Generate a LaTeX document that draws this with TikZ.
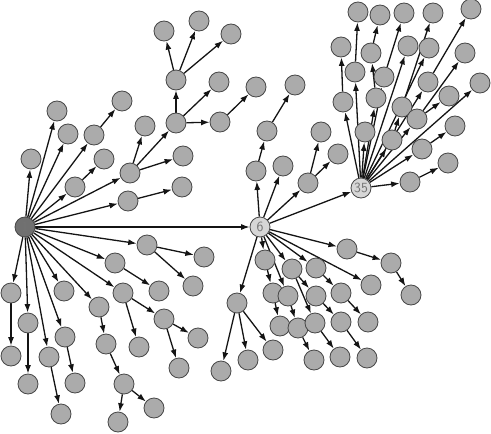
\documentclass[tikz,border=0pt]{standalone}
\usetikzlibrary{arrows.meta,backgrounds}
\newcommand\nlab[1]{{\sffamily\fontsize{14}{14}\selectfont\color{black!55}#1}}
\tikzset{
 nd/.style={circle, draw=black!72, fill=black!33, minimum size=20pt, inner sep=0pt, line width=0.8pt},
 rootnd/.style={nd, fill=black!56},
 hubnd/.style={nd, fill=black!16},
 ar/.style={-{Latex[length=8.5pt,width=6pt]}, line width=1.3pt, black!92},
}
\begin{document}
\begin{tikzpicture}[x=1pt,y=-1pt]
\useasboundingbox (0,0) rectangle (491,434);
% hubs
\node[rootnd] (r) at (25,227) {\nlab{1}};
\node[hubnd] (n6) at (260,227) {\nlab{6}};
\node[hubnd] (n35) at (361,188) {\nlab{35}};
% other nodes
\foreach \n/\x/\y in {a1/31/159, a2/57/111, a3/68/134, a4/94/135, a5/122/101,
 a6/75/187, a7/104/159, a8/130/173, a9/145/126, a10/176/123, a11/183/156,
 a12/176/80, a13/219/82, a14/220/122, a15/164/31, a16/199/21, a17/231/34,
 a18/256/87, a19/128/201, a20/182/187,
 b1/147/245, b2/204/257, b3/193/286, b4/115/263, b5/159/291, b6/123/293,
 b7/164/319, b8/139/347, b9/198/338, b10/179/368, b11/99/307, b12/106/344,
 b13/124/384, b14/154/408, b15/118/422, b16/64/291, b17/65/337, b18/75/383,
 b19/49/357, b20/61/414, b21/28/323, b22/28/384, b23/11/293, b24/11/356,
 c1/256/171, c2/267/131, c3/295/85, c4/283/166, c5/308/183, c6/321/132,
 c7/338/154, c8/347/249, c9/391/263, c10/411/295, c11/371/285, c12/265/260,
 c13/273/293, c14/280/326, c15/288/296, c16/298/328, c17/314/360, c18/292/269,
 c19/315/323, c20/316/296, c21/316/268, c22/341/293, c23/368/322, c24/341/322,
 c25/367/358, c26/340/357, c27/237/303, c28/221/371, c29/248/360, c30/273/350,
 d1/343/102, d2/341/47, d3/355/72, d4/358/12, d5/365/132, d6/376/98, d7/371/53,
 d8/380/15, d9/384/77, d10/404/13, d11/392/140, d12/402/107, d13/433/13,
 d14/408/46, d15/429/48, d16/417/119, d17/465/53, d18/449/96, d19/428/82,
 d20/471/9, d21/480/83, d22/422/149, d23/455/126, d24/410/182, d25/448/163}
 \node[nd] (\n) at (\x,\y) {};
\begin{pgfonlayer}{background}
\foreach \a/\b in {r/a1, r/a2, r/a3, r/a4, a4/a5, r/a6, a6/a7, r/a8, a8/a9, a8/a10,
 a8/a11, a10/a12, a10/a13, a10/a14, a12/a15, a12/a16, a12/a17, a14/a18, r/a19, a19/a20,
 r/b1, b1/b2, b1/b3, r/b4, b4/b5, r/b6, b6/b7, b6/b8, b7/b9, b7/b10, r/b11, b11/b12,
 b12/b13, b13/b14, b13/b15, r/b16, r/b17, b17/b18, r/b19, b19/b20, r/b21, b21/b22,
 r/b23, b23/b24, r/n6,
 n6/c1, c1/c2, c2/c3, n6/c4, n6/c5, c5/c6, c5/c7, n6/n35, n6/c8, c8/c9, c9/c10,
 n6/c11, n6/c12, c12/c13, c13/c14, n6/c15, c15/c16, c16/c17, n6/c18, c18/c19,
 c18/c20, n6/c21, c21/c22, c22/c23, c20/c24, c24/c25, c19/c26, n6/c27, c27/c28,
 c27/c29, c27/c30,
 n35/d1, d1/d2, n35/d3, d3/d4, n35/d5, n35/d6, d6/d7, d7/d8, n35/d9, d9/d10,
 n35/d11, d11/d12, d12/d13, n35/d14, n35/d15, n35/d16, d16/d17, d16/d18,
 n35/d19, d19/d20, n35/d21, n35/d22, d22/d23, n35/d24, d24/d25}
 \draw[ar] (\a) -- (\b);
\end{pgfonlayer}
\end{tikzpicture}
\end{document}
